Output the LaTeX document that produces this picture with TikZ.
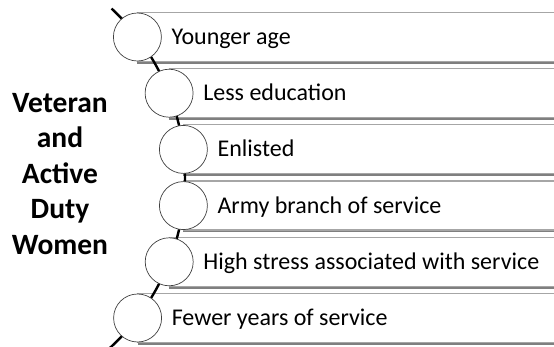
\documentclass[tikz,border=0pt]{standalone}
\usepackage{fontspec}
\setmainfont{Carlito}
\definecolor{boxline}{HTML}{A6A6A6}
\definecolor{boxshadow}{HTML}{7F7F7F}
\definecolor{markerline}{HTML}{404040}
\begin{document}
\begin{tikzpicture}[x=1pt,y=-1pt,
  itembox/.style={draw=boxline,line width=1.2pt,fill=white},
  itemshadow/.style={fill=boxshadow,draw=none},
  marker/.style={circle,draw=markerline,line width=0.7pt,fill=white,minimum size=48pt,inner sep=0pt},
  itemtext/.style={anchor=base west,inner sep=0pt,font=\fontsize{24}{28}\selectfont},
  titletext/.style={align=center,inner sep=0pt,font=\bfseries\fontsize{29.5}{35.5}\selectfont},
  spine/.style={line width=2.4pt,black}
]
\useasboundingbox (0,0) rectangle (554,347);
\clip (0,0) rectangle (554,347);

% list rows: marker centre x, row centre y, label
\def\rows{1/137.4/37.0/Younger age,
          2/169.1/93.2/Less education,
          3/183.4/149.4/Enlisted,
          4/183.4/205.6/Army branch of service,
          5/169.2/261.8/High stress associated with service,
          6/137.6/318.0/Fewer years of service}

% banners with drop shadow
\foreach \i/\cx/\cy/\txt in \rows {
  \fill[itemshadow] (\cx,\cy-22) rectangle (570,\cy+26.8);
  \draw[itembox] (\cx,\cy-24.5) rectangle (570,\cy+24.5);
}

% curved spine through the markers
\draw[spine] (-46,177.5) ++(-47:231) arc[start angle=-47,end angle=48,radius=231];

% markers and labels
\foreach \i/\cx/\cy/\txt in \rows {
  \node[marker] (m\i) at (\cx,\cy) {};
  \node[itemtext] (t\i) at (\cx+34,\cy+7.6) {\txt};
}

\node[titletext] (title) at (60,174) {Veteran\\and\\Active\\Duty\\Women};
\end{tikzpicture}
\end{document}
